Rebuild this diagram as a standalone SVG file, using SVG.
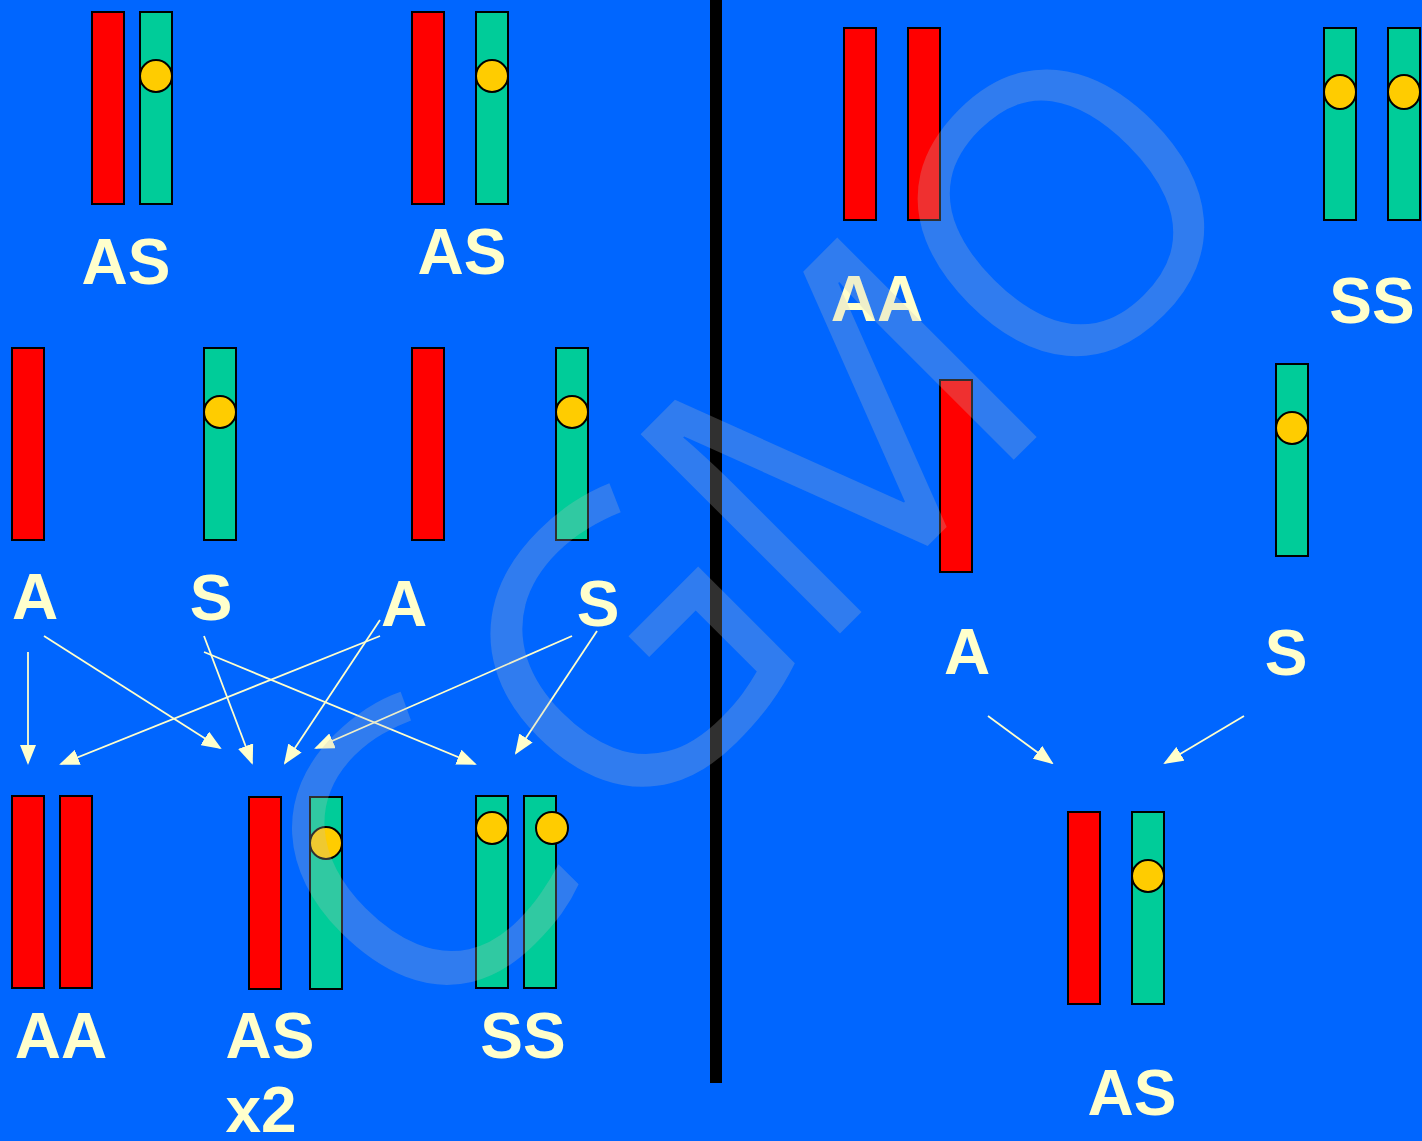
<svg xmlns="http://www.w3.org/2000/svg" width="1422" height="1141" viewBox="0 0 1422 1141">
  <style>
    .red { fill: #FF0000; stroke: #000; stroke-width: 2; }
    .teal { fill: #00CC99; stroke: #000; stroke-width: 2; }
    .cen { fill: #FFCC00; stroke: #000; stroke-width: 2; }
    .lbl { font-family: "Liberation Sans", Arial, sans-serif; font-weight: bold; font-size: 64px; fill: #FFFFCC; text-anchor: middle; }
    .arr { stroke: #FFFFCC; stroke-width: 1.8; fill: none; marker-end: url(#head); }
    .wm { font-family: "Open Sans", "Noto Sans", sans-serif; font-weight: 480; font-size: 395px; fill: #C0C0C0; fill-opacity: 0.25; text-anchor: middle; }
  </style>
  <defs>
    <marker id="head" markerUnits="userSpaceOnUse" markerWidth="20" markerHeight="16" viewBox="0 0 20 16" refX="18" refY="8" orient="auto">
      <path d="M0,0 L20,8 L0,16 Z" fill="#FFFFCC"/>
    </marker>
  </defs>

  <rect width="1422" height="1141" fill="#0066FF"/>

  <!-- divider -->
  <rect x="710" y="0" width="12" height="1083" fill="#000"/>

  <!-- left: parents -->
  <g id="parent-as-1">
    <rect class="red" x="92" y="12" width="32" height="192"/>
    <rect class="teal" x="140" y="12" width="32" height="192"/>
    <circle class="cen" cx="156" cy="76" r="16"/>
    <text class="lbl" x="126" y="284">AS</text>
  </g>
  <g id="parent-as-2">
    <rect class="red" x="412" y="12" width="32" height="192"/>
    <rect class="teal" x="476" y="12" width="32" height="192"/>
    <circle class="cen" cx="492" cy="76" r="16"/>
    <text class="lbl" x="462" y="274">AS</text>
  </g>

  <!-- left: gametes -->
  <g id="gamete-a-1">
    <rect class="red" x="12" y="348" width="32" height="192"/>
    <text class="lbl" x="35" y="619">A</text>
  </g>
  <g id="gamete-s-1">
    <rect class="teal" x="204" y="348" width="32" height="192"/>
    <circle class="cen" cx="220" cy="412" r="16"/>
    <text class="lbl" x="211" y="620">S</text>
  </g>
  <g id="gamete-a-2">
    <rect class="red" x="412" y="348" width="32" height="192"/>
    <text class="lbl" x="404" y="626">A</text>
  </g>
  <g id="gamete-s-2">
    <rect class="teal" x="556" y="348" width="32" height="192"/>
    <circle class="cen" cx="572" cy="412" r="16"/>
    <text class="lbl" x="598" y="626">S</text>
  </g>

  <!-- left: offspring -->
  <g id="child-aa">
    <rect class="red" x="12" y="796" width="32" height="192"/>
    <rect class="red" x="60" y="796" width="32" height="192"/>
    <text class="lbl" x="61" y="1058">AA</text>
  </g>
  <g id="child-as">
    <rect class="red" x="249" y="797" width="32" height="192"/>
    <rect class="teal" x="310" y="797" width="32" height="192"/>
    <circle class="cen" cx="326" cy="843" r="16"/>
    <text class="lbl" x="270" y="1058">AS</text>
    <text class="lbl" x="261" y="1132">x2</text>
  </g>
  <g id="child-ss">
    <rect class="teal" x="476" y="796" width="32" height="192"/>
    <rect class="teal" x="524" y="796" width="32" height="192"/>
    <circle class="cen" cx="492" cy="828" r="16"/>
    <circle class="cen" cx="552" cy="828" r="16"/>
    <text class="lbl" x="523" y="1058">SS</text>
  </g>

  <!-- right: parents -->
  <g id="parent-aa">
    <rect class="red" x="844" y="28" width="32" height="192"/>
    <rect class="red" x="908" y="28" width="32" height="192"/>
    <text class="lbl" x="877" y="321">AA</text>
  </g>
  <g id="parent-ss">
    <rect class="teal" x="1324" y="28" width="32" height="192"/>
    <rect class="teal" x="1388" y="28" width="32" height="192"/>
    <ellipse class="cen" cx="1340" cy="92" rx="16" ry="17"/>
    <ellipse class="cen" cx="1404" cy="92" rx="16" ry="17"/>
    <text class="lbl" x="1372" y="323">SS</text>
  </g>

  <!-- right: gametes -->
  <g id="gamete-a-3">
    <rect class="red" x="940" y="380" width="32" height="192"/>
    <text class="lbl" x="967" y="674">A</text>
  </g>
  <g id="gamete-s-3">
    <rect class="teal" x="1276" y="364" width="32" height="192"/>
    <circle class="cen" cx="1292" cy="428" r="16"/>
    <text class="lbl" x="1286" y="675">S</text>
  </g>

  <!-- right: offspring -->
  <g id="child-as-right">
    <rect class="red" x="1068" y="812" width="32" height="192"/>
    <rect class="teal" x="1132" y="812" width="32" height="192"/>
    <circle class="cen" cx="1148" cy="876" r="16"/>
    <text class="lbl" x="1132" y="1115">AS</text>
  </g>

  <!-- connectors -->
  <g id="connectors">
    <line class="arr" x1="28" y1="652" x2="28" y2="763"/>
    <line class="arr" x1="44" y1="636" x2="220" y2="748"/>
    <line class="arr" x1="204" y1="636" x2="252" y2="763"/>
    <line class="arr" x1="204" y1="652" x2="475" y2="764"/>
    <line class="arr" x1="380" y1="620" x2="285" y2="763"/>
    <line class="arr" x1="380" y1="636" x2="61" y2="764"/>
    <line class="arr" x1="572" y1="636" x2="316" y2="748"/>
    <line class="arr" x1="597" y1="631" x2="516" y2="753"/>
    <line class="arr" x1="988" y1="716" x2="1052" y2="763"/>
    <line class="arr" x1="1244" y1="716" x2="1165" y2="763"/>
  </g>

  <!-- watermark -->
  <g transform="rotate(-45)">
    <text class="wm" x="-318 -21 285 600" y="1042">CGMO</text>
  </g>
</svg>
